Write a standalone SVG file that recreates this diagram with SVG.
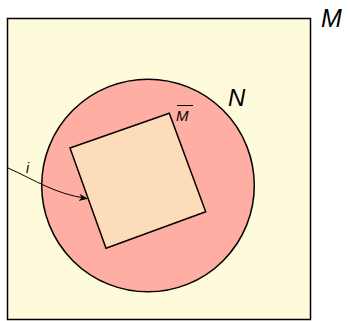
<svg xmlns="http://www.w3.org/2000/svg" width="348" height="321" viewBox="0 0 348 321">
<defs>
<style>
.lbl{font-family:"Liberation Sans",Arial,sans-serif;font-style:italic;fill:#000}
.shape{stroke:#000;stroke-width:1.5}
</style>
<marker id="arr" viewBox="0 0 10 10" refX="9" refY="5" markerWidth="9" markerHeight="9" orient="auto" markerUnits="userSpaceOnUse">
<path d="M0,1 L10,5 L0,9 L3,5 Z" fill="#000"/>
</marker>
</defs>
<rect width="348" height="321" fill="#fff"/>
<g id="M">
<rect class="shape" x="7.5" y="18.5" width="303" height="301" fill="#fefadc"/>
<text class="lbl" x="321" y="27" font-size="25">M</text>
</g>
<g id="N">
<circle class="shape" cx="148" cy="185.5" r="106.3" fill="#feaea2"/>
<text class="lbl" x="228" y="106" font-size="24">N</text>
</g>
<g id="Mbar">
<polygon class="shape" points="70,148 169.3,113.3 205.7,211.7 106,248.3" fill="#fddcba"/>
<text class="lbl" x="176" y="121" font-size="15">M</text>
<line x1="177" y1="105.5" x2="193" y2="105.5" stroke="#000" stroke-width="1"/>
</g>
<g id="connectors">
<path d="M8,168 C35,180 55,194 87,198.5" fill="none" stroke="#000" stroke-width="1" marker-end="url(#arr)"/>
<text class="lbl" x="26" y="173" font-size="14">i</text>
</g>
</svg>
